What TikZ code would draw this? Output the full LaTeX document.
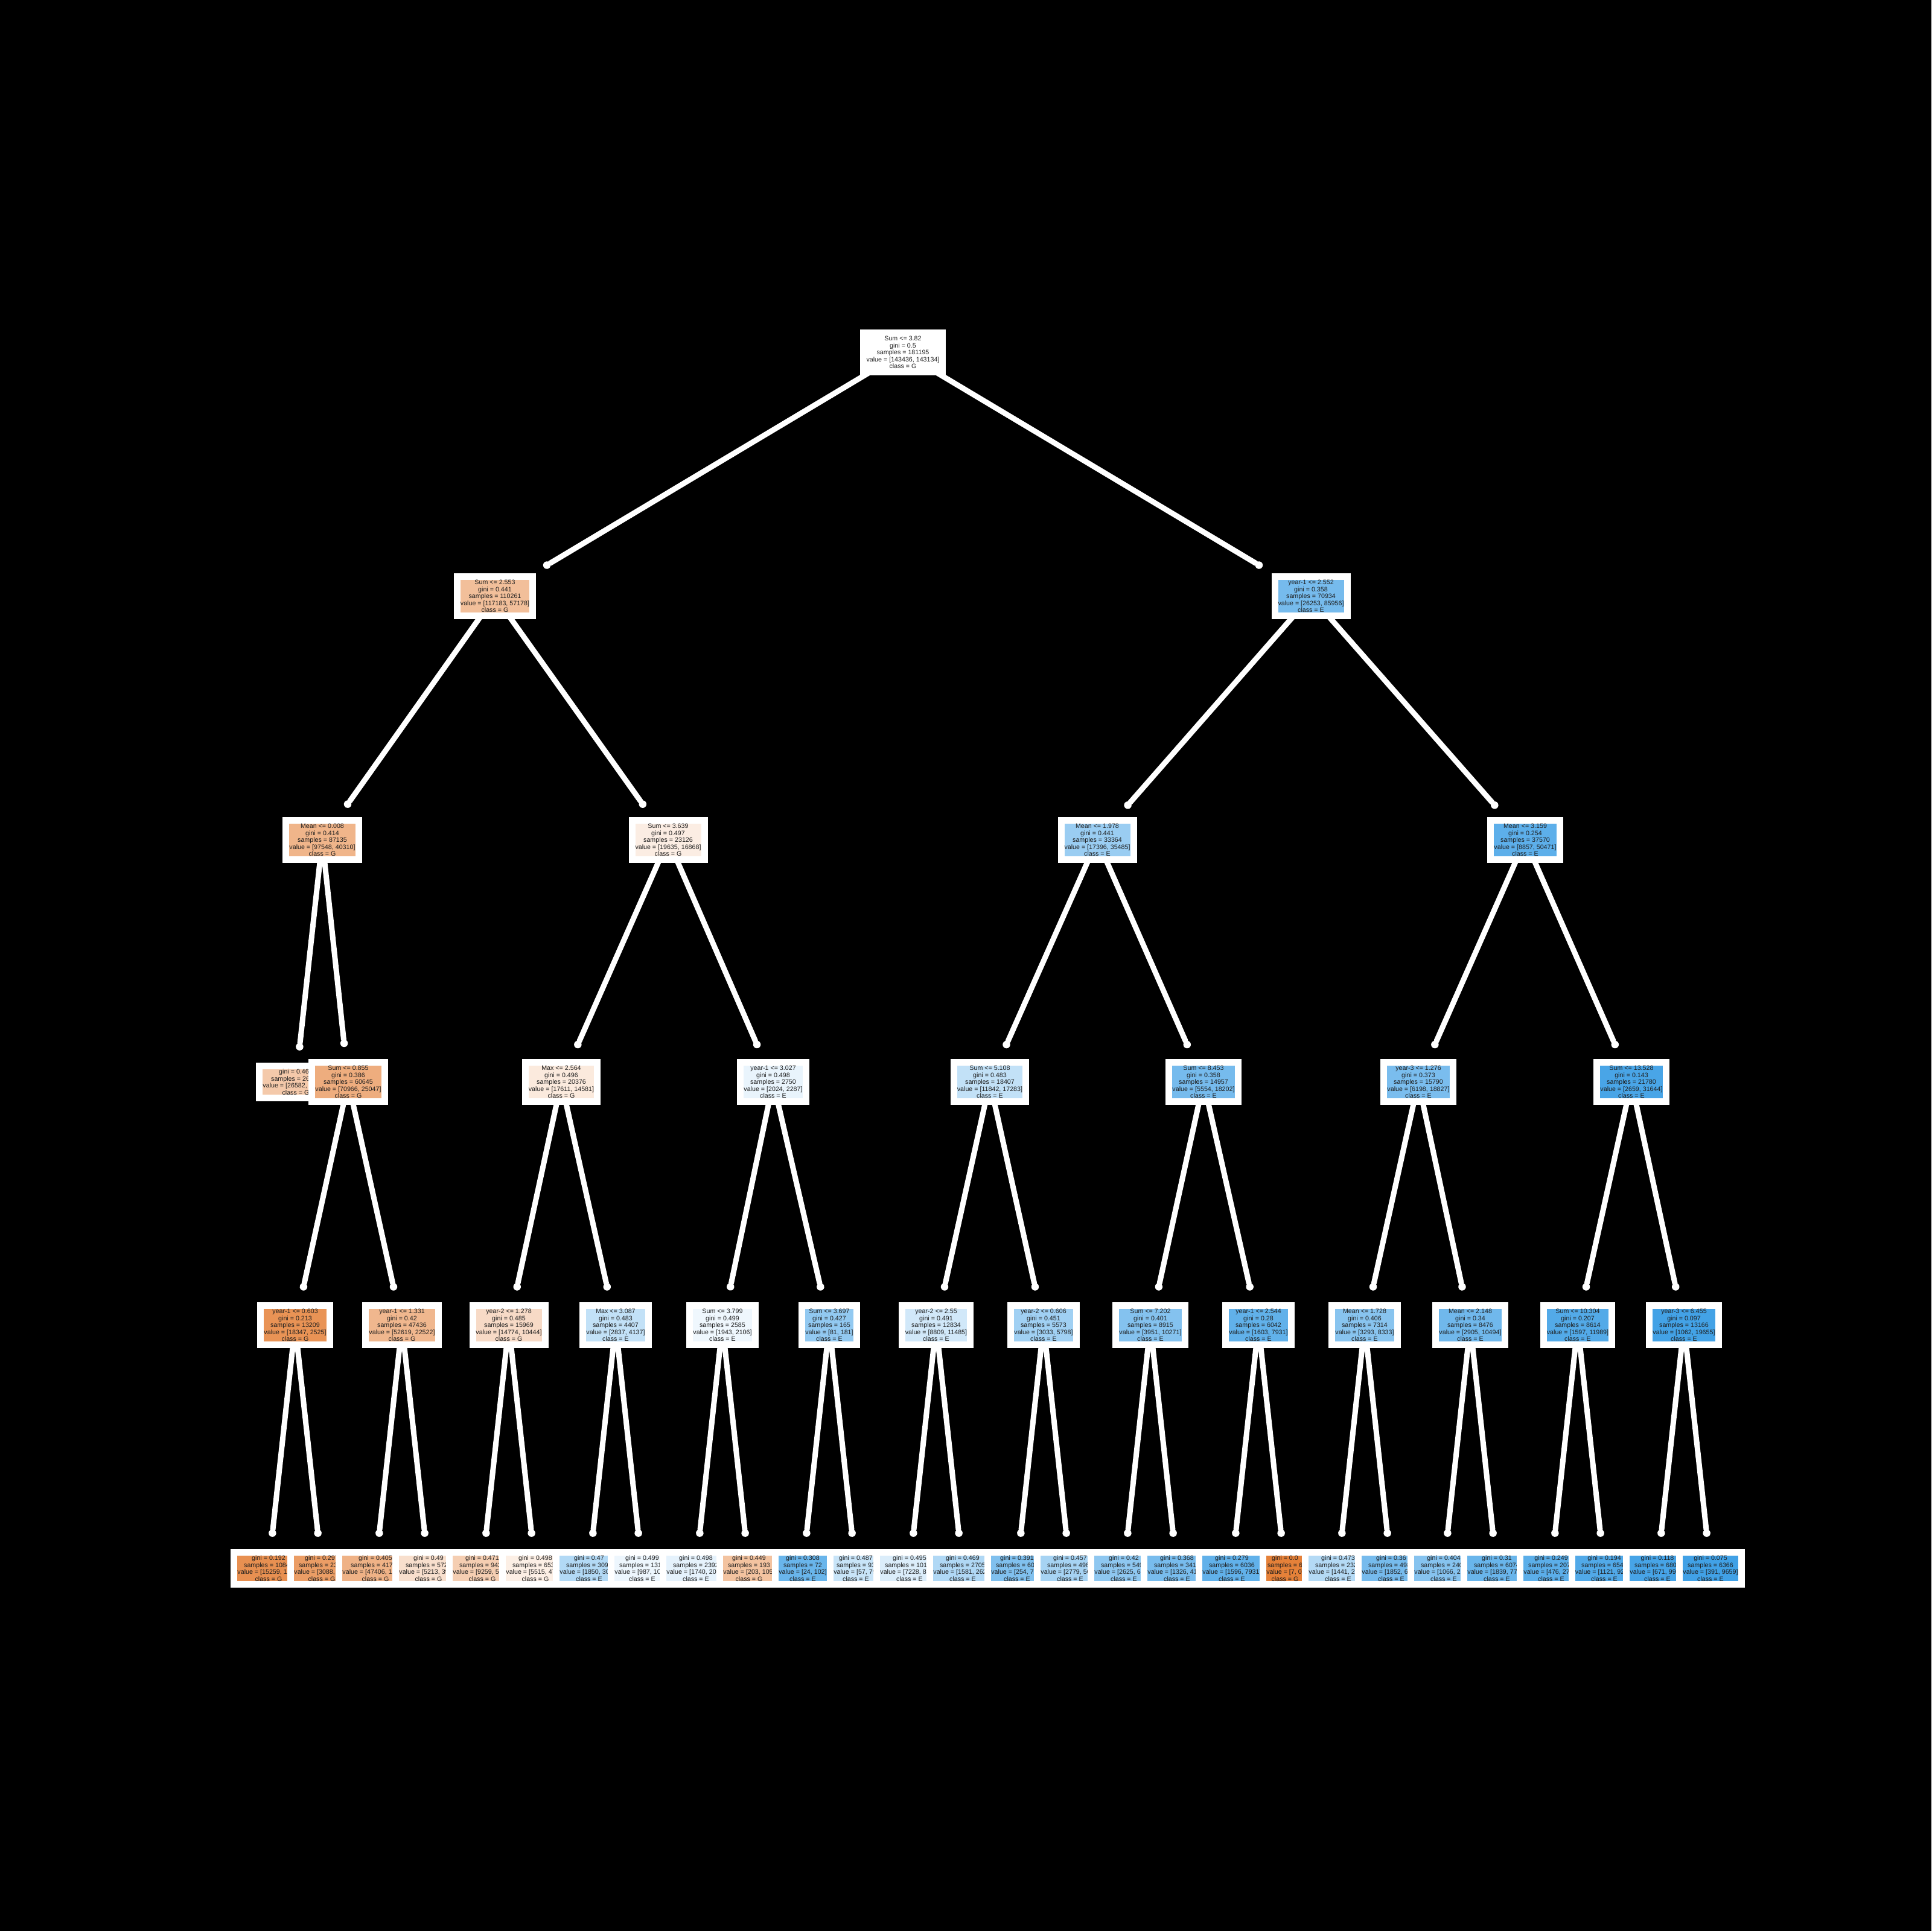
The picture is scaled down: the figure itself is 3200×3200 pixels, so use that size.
\documentclass[tikz,border=0pt]{standalone}
\usepackage{fontspec}
\setmainfont{Liberation Sans}
\usetikzlibrary{calc,arrows.meta}
\definecolor{clsG}{RGB}{229,129,57}
\definecolor{clsE}{RGB}{57,157,229}
\definecolor{nodetext}{RGB}{30,30,30}
\pgfdeclarelayer{edgelayer}
\pgfsetlayers{edgelayer,main}
% one tree node: white padding box, coloured face, text
\newcommand\treebox[5]{%
  \node[padbox] (#1-o) at (#2,#3) {#5};
  \node[facebox, fill=#4] (#1) at (#2,#3) {#5};
}
\begin{document}
\begin{tikzpicture}[x=0.1mm, y=-0.1mm,
  treetext/.style={font=\fontsize{3.04pt}{3.3pt}\selectfont, align=center, inner sep=0pt, outer sep=0pt},
  padbox/.style={treetext, fill=white, text=white, inner sep=1.1mm},
  facebox/.style={treetext, text=nodetext},
  edge/.style={draw=white, line width=0.9mm, line cap=round, shorten >=2.0mm,
    -{Circle[length=1.25mm, line width=0pt]}}
]
\useasboundingbox (0,0) rectangle (3200,3200);

% ---- nodes, drawn in pre-order ----
\treebox{r}{1496}{584}{white}{Sum <= 3.82\\gini = 0.5\\samples = 181195\\value = [143436, 143134]\\class = G}
\treebox{a}{820}{988}{clsG!51!white}{Sum <= 2.553\\gini = 0.441\\samples = 110261\\value = [117183, 57178]\\class = G}
\treebox{aa}{534}{1392}{clsG!59!white}{Mean <= 0.008\\gini = 0.414\\samples = 87135\\value = [97548, 40310]\\class = G}
\treebox{aaa}{490}{1793}{clsG!43!white}{gini = 0.463\\samples = 26490\\value = [26582, 15263]\\class = G}
\treebox{aab}{577}{1793}{clsG!65!white}{Sum <= 0.855\\gini = 0.386\\samples = 60645\\value = [70966, 25047]\\class = G}
\treebox{aaba}{489}{2196}{clsG!86!white}{year-1 <= 0.603\\gini = 0.213\\samples = 13209\\value = [18347, 2525]\\class = G}
\treebox{l1}{445}{2599}{clsG!88!white}{gini = 0.192\\samples = 10845\\value = [15259, 1840]\\class = G}
\treebox{l2}{533}{2599}{clsG!78!white}{gini = 0.297\\samples = 2364\\value = [3088, 685]\\class = G}
\treebox{aabb}{666}{2196}{clsG!57!white}{year-1 <= 1.331\\gini = 0.42\\samples = 47436\\value = [52619, 22522]\\class = G}
\treebox{l3}{622}{2599}{clsG!61!white}{gini = 0.405\\samples = 41712\\value = [47406, 18619]\\class = G}
\treebox{l4}{710}{2599}{clsG!25!white}{gini = 0.49\\samples = 5724\\value = [5213, 3903]\\class = G}
\treebox{ab}{1107}{1392}{clsG!14!white}{Sum <= 3.639\\gini = 0.497\\samples = 23126\\value = [19635, 16868]\\class = G}
\treebox{aba}{930}{1793}{clsG!17!white}{Max <= 2.564\\gini = 0.496\\samples = 20376\\value = [17611, 14581]\\class = G}
\treebox{abaa}{843}{2196}{clsG!29!white}{year-2 <= 1.278\\gini = 0.485\\samples = 15969\\value = [14774, 10444]\\class = G}
\treebox{l5}{799}{2599}{clsG!39!white}{gini = 0.471\\samples = 9436\\value = [9259, 5665]\\class = G}
\treebox{l6}{887}{2599}{clsG!13!white}{gini = 0.498\\samples = 6533\\value = [5515, 4779]\\class = G}
\treebox{abab}{1020}{2196}{clsE!31!white}{Max <= 3.087\\gini = 0.483\\samples = 4407\\value = [2837, 4137]\\class = E}
\treebox{l7}{976}{2599}{clsE!39!white}{gini = 0.47\\samples = 3092\\value = [1850, 3051]\\class = E}
\treebox{l8}{1064}{2599}{clsE!9!white}{gini = 0.499\\samples = 1315\\value = [987, 1086]\\class = E}
\treebox{abb}{1281}{1793}{clsE!11!white}{year-1 <= 3.027\\gini = 0.498\\samples = 2750\\value = [2024, 2287]\\class = E}
\treebox{abba}{1197}{2196}{clsE!8!white}{Sum <= 3.799\\gini = 0.499\\samples = 2585\\value = [1943, 2106]\\class = E}
\treebox{l9}{1153}{2599}{clsE!13!white}{gini = 0.498\\samples = 2392\\value = [1740, 2001]\\class = E}
\treebox{l10}{1241}{2599}{clsG!48!white}{gini = 0.449\\samples = 193\\value = [203, 105]\\class = G}
\treebox{abbb}{1374}{2196}{clsE!55!white}{Sum <= 3.697\\gini = 0.427\\samples = 165\\value = [81, 181]\\class = E}
\treebox{l11}{1330}{2599}{clsE!76!white}{gini = 0.308\\samples = 72\\value = [24, 102]\\class = E}
\treebox{l12}{1418}{2599}{clsE!28!white}{gini = 0.487\\samples = 93\\value = [57, 79]\\class = E}
\treebox{b}{2172}{988}{clsE!69!white}{year-1 <= 2.552\\gini = 0.358\\samples = 70934\\value = [26253, 85956]\\class = E}
\treebox{ba}{1818}{1392}{clsE!51!white}{Mean <= 1.978\\gini = 0.441\\samples = 33364\\value = [17396, 35485]\\class = E}
\treebox{baa}{1640}{1793}{clsE!31!white}{Sum <= 5.108\\gini = 0.483\\samples = 18407\\value = [11842, 17283]\\class = E}
\treebox{baaa}{1551}{2196}{clsE!23!white}{year-2 <= 2.55\\gini = 0.491\\samples = 12834\\value = [8809, 11485]\\class = E}
\treebox{l13}{1507}{2599}{clsE!18!white}{gini = 0.495\\samples = 10129\\value = [7228, 8856]\\class = E}
\treebox{l14}{1595}{2599}{clsE!40!white}{gini = 0.469\\samples = 2705\\value = [1581, 2629]\\class = E}
\treebox{baab}{1729}{2196}{clsE!48!white}{year-2 <= 0.606\\gini = 0.451\\samples = 5573\\value = [3033, 5798]\\class = E}
\treebox{l15}{1685}{2599}{clsE!64!white}{gini = 0.391\\samples = 604\\value = [254, 700]\\class = E}
\treebox{l16}{1773}{2599}{clsE!45!white}{gini = 0.457\\samples = 4969\\value = [2779, 5098]\\class = E}
\treebox{bab}{1994}{1793}{clsE!69!white}{Sum <= 8.453\\gini = 0.358\\samples = 14957\\value = [5554, 18202]\\class = E}
\treebox{baba}{1906}{2196}{clsE!62!white}{Sum <= 7.202\\gini = 0.401\\samples = 8915\\value = [3951, 10271]\\class = E}
\treebox{l17}{1862}{2599}{clsE!57!white}{gini = 0.42\\samples = 5499\\value = [2625, 6125]\\class = E}
\treebox{l18}{1950}{2599}{clsE!68!white}{gini = 0.368\\samples = 3416\\value = [1326, 4146]\\class = E}
\treebox{babb}{2085}{2196}{clsE!80!white}{year-1 <= 2.544\\gini = 0.28\\samples = 6042\\value = [1603, 7931]\\class = E}
\treebox{l19}{2041}{2599}{clsE!80!white}{gini = 0.279\\samples = 6036\\value = [1596, 7931]\\class = E}
\treebox{l20}{2129}{2599}{clsG}{gini = 0.0\\samples = 6\\value = [7, 0]\\class = G}
\treebox{bb}{2527}{1392}{clsE!82!white}{Mean <= 3.159\\gini = 0.254\\samples = 37570\\value = [8857, 50471]\\class = E}
\treebox{bba}{2350}{1793}{clsE!67!white}{year-3 <= 1.276\\gini = 0.373\\samples = 15790\\value = [6198, 18827]\\class = E}
\treebox{bbaa}{2261}{2196}{clsE!60!white}{Mean <= 1.728\\gini = 0.406\\samples = 7314\\value = [3293, 8333]\\class = E}
\treebox{l21}{2217}{2599}{clsE!38!white}{gini = 0.473\\samples = 2328\\value = [1441, 2313]\\class = E}
\treebox{l22}{2305}{2599}{clsE!69!white}{gini = 0.36\\samples = 4986\\value = [1852, 6020]\\class = E}
\treebox{bbab}{2436}{2196}{clsE!72!white}{Mean <= 2.148\\gini = 0.34\\samples = 8476\\value = [2905, 10494]\\class = E}
\treebox{l23}{2392}{2599}{clsE!61!white}{gini = 0.404\\samples = 2402\\value = [1066, 2729]\\class = E}
\treebox{l24}{2480}{2599}{clsE!76!white}{gini = 0.31\\samples = 6074\\value = [1839, 7765]\\class = E}
\treebox{bbb}{2703}{1793}{clsE!92!white}{Sum <= 13.528\\gini = 0.143\\samples = 21780\\value = [2659, 31644]\\class = E}
\treebox{bbba}{2614}{2196}{clsE!87!white}{Sum <= 10.304\\gini = 0.207\\samples = 8614\\value = [1597, 11989]\\class = E}
\treebox{l25}{2570}{2599}{clsE!83!white}{gini = 0.249\\samples = 2070\\value = [476, 2785]\\class = E}
\treebox{l26}{2658}{2599}{clsE!88!white}{gini = 0.194\\samples = 6544\\value = [1121, 9204]\\class = E}
\treebox{bbbb}{2790}{2196}{clsE!95!white}{year-3 <= 6.455\\gini = 0.097\\samples = 13166\\value = [1062, 19655]\\class = E}
\treebox{l27}{2746}{2599}{clsE!93!white}{gini = 0.118\\samples = 6800\\value = [671, 9996]\\class = E}
\treebox{l28}{2834}{2599}{clsE!96!white}{gini = 0.075\\samples = 6366\\value = [391, 9659]\\class = E}

% ---- background and connectors, beneath the nodes ----
\begin{pgfonlayer}{edgelayer}
\fill[black] (0,0) rectangle (3200,3200);
\foreach \p/\c in {r/a, r/b, a/aa, a/ab, b/ba, b/bb,
  aa/aaa, aa/aab, ab/aba, ab/abb, ba/baa, ba/bab, bb/bba, bb/bbb,
  aab/aaba, aab/aabb, aba/abaa, aba/abab, abb/abba, abb/abbb,
  baa/baaa, baa/baab, bab/baba, bab/babb, bba/bbaa, bba/bbab, bbb/bbba, bbb/bbbb,
  aaba/l1, aaba/l2, aabb/l3, aabb/l4, abaa/l5, abaa/l6, abab/l7, abab/l8,
  abba/l9, abba/l10, abbb/l11, abbb/l12, baaa/l13, baaa/l14, baab/l15, baab/l16,
  baba/l17, baba/l18, babb/l19, babb/l20, bbaa/l21, bbaa/l22, bbab/l23, bbab/l24,
  bbba/l25, bbba/l26, bbbb/l27, bbbb/l28}
  \draw[edge] (\p) -- (\c-o);
\end{pgfonlayer}
\end{tikzpicture}
\end{document}
